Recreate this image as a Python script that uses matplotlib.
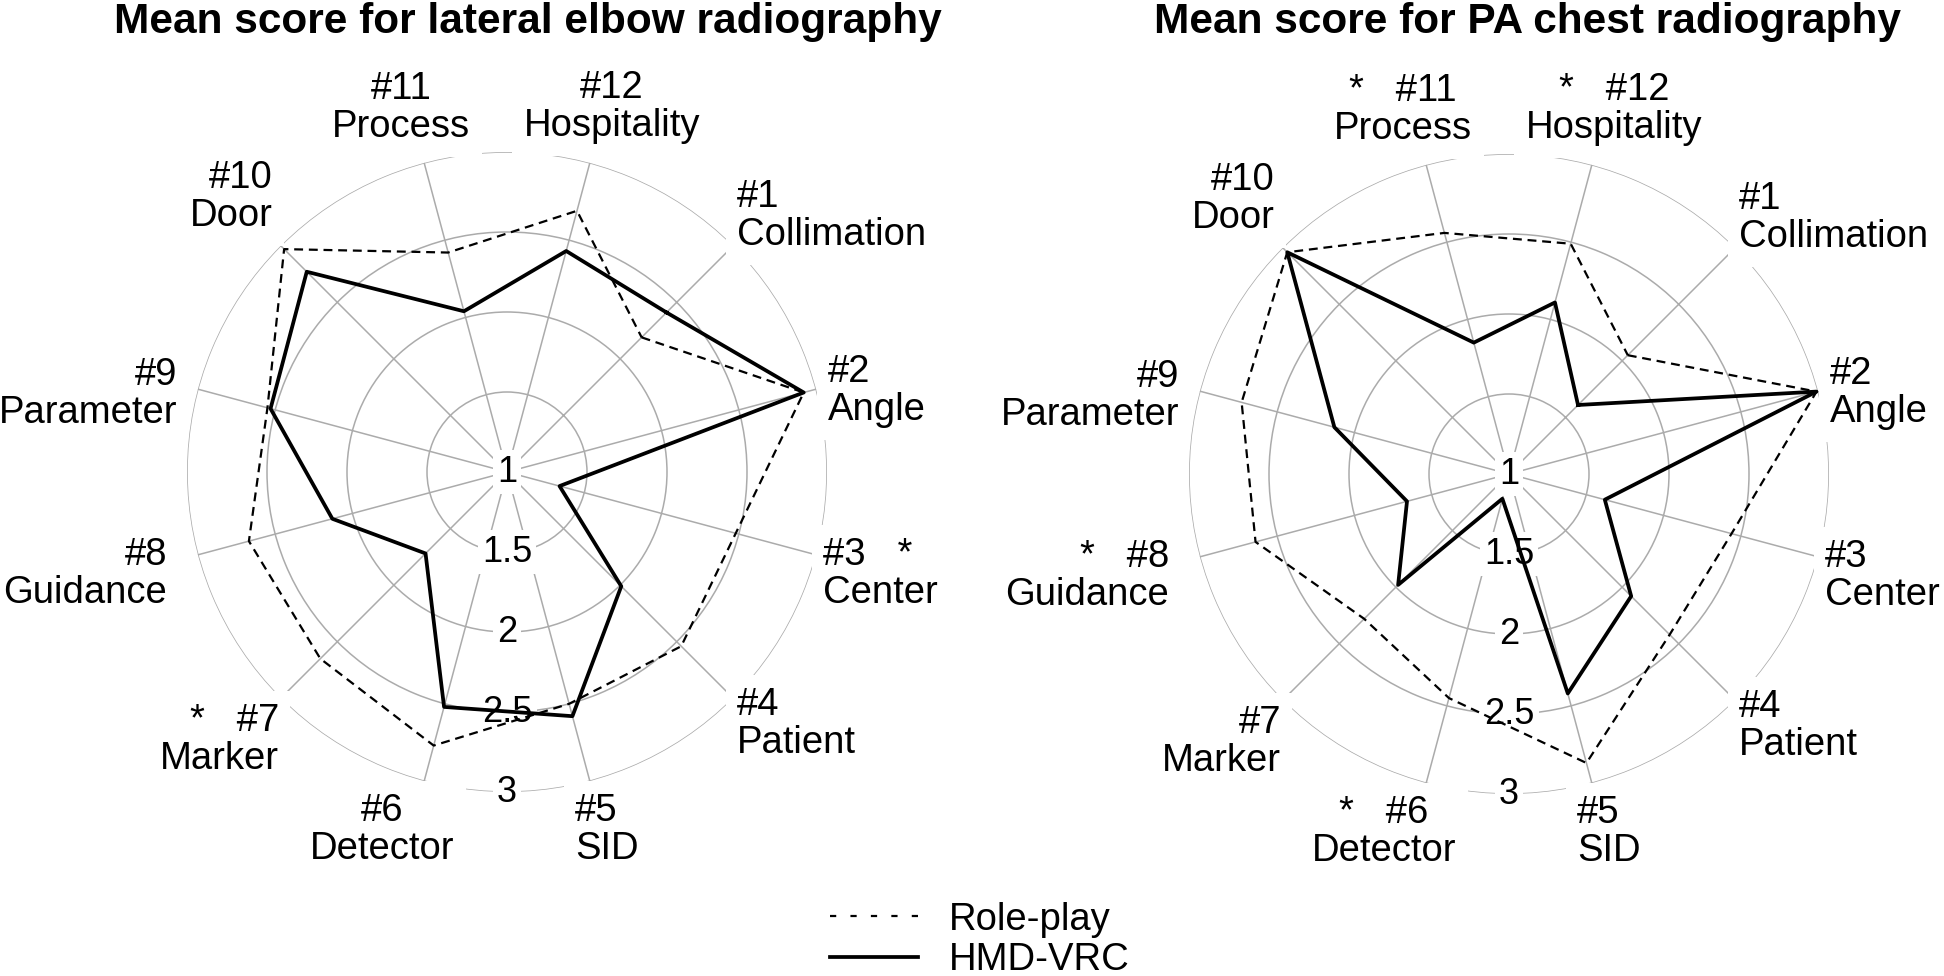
import numpy as np
import matplotlib
matplotlib.use("Agg")
import matplotlib.pyplot as plt
from matplotlib.lines import Line2D

plt.rcParams['font.family'] = ['Liberation Sans', 'DejaVu Sans']

# ---------------- data ----------------
item_ids = ['#1', '#2', '#3', '#4', '#5', '#6', '#7', '#8', '#9', '#10', '#11', '#12']
item_names = ['Collimation', 'Angle', 'Center', 'Patient', 'SID', 'Detector',
              'Marker', 'Guidance', 'Parameter', 'Door', 'Process', 'Hospitality']

elbow_roleplay = [2.19, 2.92, 2.48, 2.54, 2.50, 2.77, 2.65, 2.67, 2.55, 2.97, 2.42, 2.69]
elbow_hmd      = [2.41, 2.92, 1.34, 2.01, 2.58, 2.52, 1.72, 2.13, 2.53, 2.77, 2.04, 2.43]
elbow_stars = ['#3', '#7']

chest_roleplay = [2.05, 2.99, 2.44, 2.42, 2.87, 2.45, 2.28, 2.64, 2.73, 2.96, 2.56, 2.49]
chest_hmd      = [1.61, 2.99, 1.62, 2.08, 2.42, 1.16, 1.98, 1.66, 2.13, 2.96, 1.85, 2.11]
chest_stars = ['#6', '#8', '#11', '#12']

r_ticks = [1.5, 2, 2.5, 3]
r_tick_labels = ['1', '1.5', '2', '2.5', '3']
r_label_values = [1, 1.5, 2, 2.5, 3]

titles = ['Mean score for lateral elbow radiography', 'Mean score for PA chest radiography']
series_names = ['Role-play', 'HMD-VRC']

# ---------------- layout ----------------
W, H = 1944, 976
R_PX = 320
centers = [(507, 472), (1509, 474)]
title_x = [528, 1527]
# label anchor offsets (px from centre, y down) and alignment
label_off = [(230, -256, 'left'), (321, -81, 'left'), (316, 102, 'left'),
             (230, 252, 'left'), (68, 358, 'left'), (-125, 358, 'center'),
             (-228, 268, 'right'), (-340, 102, 'right'), (-330, -78, 'right'),
             (-234, -275, 'right'), (-106, -364, 'center'), (105, -365, 'center')]

fig = plt.figure(figsize=(W / 100, H / 100), dpi=100)
grid_col = '#ababab'

n = len(item_ids)
theta = np.deg2rad(np.arange(n) * 30.0)

datasets = [(elbow_roleplay, elbow_hmd, elbow_stars), (chest_roleplay, chest_hmd, chest_stars)]

for k, (rp, hmd, stars) in enumerate(datasets):
    cx, cy = centers[k]
    ax = fig.add_axes([(cx - R_PX) / W, (H - cy - R_PX) / H, 2 * R_PX / W, 2 * R_PX / H],
                      projection='polar')
    ax.set_theta_offset(np.deg2rad(45))
    ax.set_theta_direction(-1)
    ax.set_ylim(1, 3)
    ax.set_xticks(theta)
    ax.set_xticklabels([])
    ax.set_yticks(r_ticks)
    ax.set_yticklabels([])
    ax.spines['polar'].set_visible(False)
    ax.grid(True, color=grid_col, linewidth=1.1, linestyle='-')
    ax.set_facecolor('white')

    th_closed = np.append(theta, theta[0])
    ax.plot(th_closed, list(rp) + [rp[0]], color='black', lw=1.6,
            linestyle=(0, (4.0, 2.6)), zorder=3, clip_on=False)
    ax.plot(th_closed, list(hmd) + [hmd[0]], color='black', lw=2.7,
            linestyle='-', zorder=4, clip_on=False)

    # radial labels (drawn along the downward direction)
    th_lab = np.deg2rad(135)
    for val, txt in zip(r_label_values, r_tick_labels):
        ax.text(th_lab, val, txt, ha='center', va='center', fontsize=26,
                zorder=2.5, clip_on=False,
                bbox=dict(boxstyle='square,pad=0.12', fc='white', ec='none'))

    # category labels
    for i in range(n):
        dx, dy, ha = label_off[i]
        first = item_ids[i]
        if item_ids[i] in stars:
            first = f"{item_ids[i]}   *" if ha == 'left' else f"*   {item_ids[i]}"
        ax.text(0.5 + dx / (2 * R_PX), 0.5 - dy / (2 * R_PX), first + '\n' + item_names[i],
                transform=ax.transAxes, ha=ha, va='center', multialignment=ha,
                fontsize=27.5, linespacing=1.1, zorder=2.5, clip_on=False,
                bbox=dict(boxstyle='square,pad=0.3', fc='white', ec='none'))

    fig.text(title_x[k] / W, 1 - 2 / H, titles[k], ha='center', va='top',
             fontsize=30.5, fontweight='bold')

handles = [Line2D([], [], color='black', lw=1.6, linestyle=(0, (2.8, 6.4))),
           Line2D([], [], color='black', lw=2.7)]
fig.legend(handles, series_names, loc='center', bbox_to_anchor=(980 / W, 1 - 940 / H),
           frameon=False, fontsize=27.5, handlelength=2.3, handletextpad=0.8,
           labelspacing=0.12, borderpad=0.1)

fig.savefig('out.png', dpi=100, facecolor='white')
